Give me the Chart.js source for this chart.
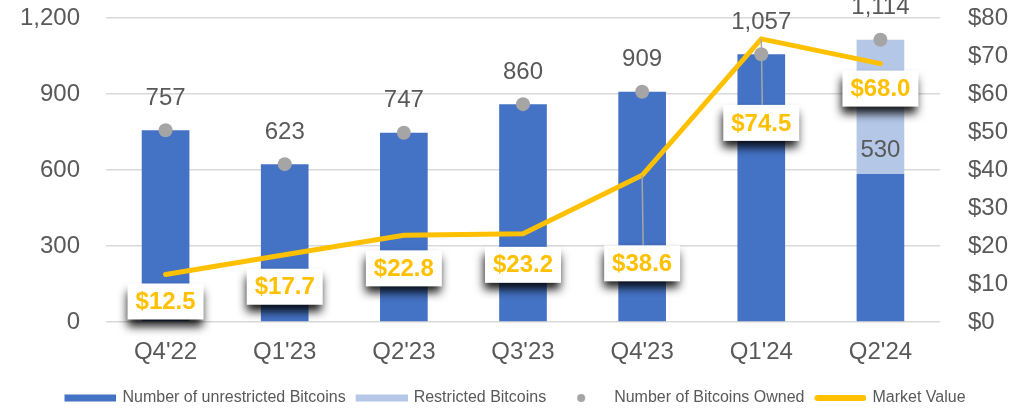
<!DOCTYPE html>
<html>
<head>
<meta charset="utf-8">
<title>Bitcoin holdings</title>
<script src="https://cdn.jsdelivr.net/npm/chart.js@4.4.1/dist/chart.umd.min.js"></script>
<style>
  html, body { margin: 0; padding: 0; background: #fff; }
  #wrap { width: 1024px; height: 408px; }
</style>
</head>
<body>
<div id="wrap"><canvas id="btcChart" width="1024" height="408"></canvas></div>
<script>
const quarters = ["Q4'22", "Q1'23", "Q2'23", "Q3'23", "Q4'23", "Q1'24", "Q2'24"];
const unrestrictedBtc = [757, 623, 747, 860, 909, 1057, 584];
const restrictedBtc = [null, null, null, null, null, null, 530];
const btcOwned = [757, 623, 747, 860, 909, 1057, 1114];
const marketValue = [12.5, 17.7, 22.8, 23.2, 38.6, 74.5, 68.0];
const countTicks = [0, 300, 600, 900, 1200];
const valueTicks = [0, 10, 20, 30, 40, 50, 60, 70, 80];

const FONT = "'Liberation Sans', Arial, sans-serif";
const BLUE = "#4472C4";
const LIGHT_BLUE = "#B4C7E7";
const GREY = "#A5A5A5";
const GOLD = "#FFC000";
const TEXT = "#595959";

Chart.defaults.font.family = FONT;
Chart.defaults.color = TEXT;

// legend swatches drawn on small canvases so each item can have its own shape
// (canvas is a bit wider than the legend box so the marker sits close to its text)
function swatch(draw) {
    const c = document.createElement("canvas");
    c.width = 60;
    c.height = 10;
    draw(c.getContext("2d"));
    return c;
}

const swatches = [
    swatch(ctx => { ctx.fillStyle = BLUE; ctx.fillRect(8, 1.5, 52, 7); }),
    swatch(ctx => { ctx.fillStyle = LIGHT_BLUE; ctx.fillRect(8, 1.5, 52, 7); }),
    swatch(ctx => { ctx.fillStyle = GREY; ctx.beginPath(); ctx.arc(33, 5, 4, 0, Math.PI * 2); ctx.fill(); }),
    swatch(ctx => {
        ctx.strokeStyle = GOLD;
        ctx.lineWidth = 6;
        ctx.lineCap = "round";
        ctx.beginPath();
        ctx.moveTo(11, 5);
        ctx.lineTo(57, 5);
        ctx.stroke();
    })
];

// tick padding is added to the axis' top/bottom overhang, keep only the label half-height
function fixAxis(width) {
    return s => {
        s.width = width;
        s.paddingTop = 14;
        s.paddingBottom = 14;
    };
}

const labelPlugin = {
    id: "btcLabels",
    afterDatasetsDraw(chart, args, opts) {
        const ctx = chart.ctx;
        const restrictedMeta = chart.getDatasetMeta(1);
        const ownedMeta = chart.getDatasetMeta(2);
        const mvMeta = chart.getDatasetMeta(3);

        ctx.save();
        ctx.font = `24px ${FONT}`;
        ctx.fillStyle = TEXT;
        ctx.textAlign = "center";
        ctx.textBaseline = "middle";

        ownedMeta.data.forEach((pt, i) => {
            ctx.fillText(btcOwned[i].toLocaleString("en-US"), pt.x, pt.y - 32);
        });

        restrictedMeta.data.forEach((bar, i) => {
            if (restrictedBtc[i] == null) return;
            ctx.fillText(restrictedBtc[i].toLocaleString("en-US"), bar.x, bar.base - 24);
        });

        // market value callouts
        const w = 76, h = 36;
        mvMeta.data.forEach((pt, i) => {
            const cy = pt.y + opts.drops[i];

            if (opts.drops[i] > 50) {
                ctx.strokeStyle = "#A6A6A6";
                ctx.lineWidth = 1.5;
                ctx.beginPath();
                ctx.moveTo(pt.x, pt.y);
                ctx.lineTo(pt.x + 1, cy - h / 2);
                ctx.stroke();
            }

            ctx.save();
            ctx.shadowColor = "rgba(0,0,0,0.9)";
            ctx.shadowBlur = 9;
            ctx.shadowOffsetX = -1;
            ctx.shadowOffsetY = 7;
            ctx.fillStyle = "#fff";
            ctx.fillRect(pt.x - w / 2, cy - h / 2, w, h);
            ctx.restore();

            ctx.font = `bold 24px ${FONT}`;
            ctx.fillStyle = GOLD;
            ctx.fillText("$" + marketValue[i].toFixed(1), pt.x, cy + 1);
        });

        ctx.restore();
    }
};

new Chart(document.getElementById("btcChart"), {
    type: "bar",
    data: {
        labels: quarters,
        datasets: [
            {
                label: "Number of unrestricted Bitcoins",
                data: unrestrictedBtc,
                backgroundColor: BLUE,
                stack: "btc",
                yAxisID: "y",
                order: 3,
                barPercentage: 0.4,
                categoryPercentage: 1
            },
            {
                label: "Restricted Bitcoins",
                data: restrictedBtc,
                backgroundColor: LIGHT_BLUE,
                stack: "btc",
                yAxisID: "y",
                order: 3,
                barPercentage: 0.4,
                categoryPercentage: 1
            },
            {
                type: "line",
                label: "Number of Bitcoins Owned",
                data: btcOwned,
                showLine: false,
                stack: "owned",
                yAxisID: "y",
                pointRadius: 7,
                pointBackgroundColor: GREY,
                pointBorderWidth: 0,
                order: 1
            },
            {
                type: "line",
                label: "Market Value",
                data: marketValue,
                yAxisID: "y1",
                borderColor: GOLD,
                backgroundColor: GOLD,
                borderWidth: 5,
                borderCapStyle: "round",
                borderJoinStyle: "miter",
                pointRadius: 0,
                tension: 0,
                order: 2
            }
        ]
    },
    options: {
        responsive: false,
        devicePixelRatio: 1,
        animation: false,
        layout: { padding: { top: 18, bottom: -8, left: 0, right: 0 } },
        plugins: {
            tooltip: { enabled: false },
            btcLabels: { drops: [27, 32, 33, 31, 88, 84, 25] },
            legend: {
                position: "bottom",
                labels: {
                    usePointStyle: true,
                    pointStyleWidth: 56,
                    boxHeight: 10,
                    padding: 4,
                    color: TEXT,
                    font: { size: 16 },
                    generateLabels: chart => chart.data.datasets.map((ds, i) => ({
                        text: ds.label,
                        pointStyle: swatches[i],
                        fillStyle: "transparent",
                        strokeStyle: "transparent",
                        lineWidth: 0,
                        fontColor: TEXT,
                        datasetIndex: i
                    }))
                }
            }
        },
        scales: {
            x: {
                stacked: true,
                grid: { display: false },
                border: { display: false },
                ticks: { font: { size: 24 }, color: TEXT, padding: 8 },
                afterFit: s => { s.height = 64; }
            },
            y: {
                stacked: true,
                position: "left",
                min: 0,
                max: 1200,
                afterBuildTicks: s => { s.ticks = countTicks.map(v => ({ value: v })); },
                grid: { color: "#D9D9D9", lineWidth: 1.5, drawTicks: false },
                border: { display: false },
                ticks: {
                    font: { size: 24 },
                    color: TEXT,
                    padding: 26,
                    callback: v => v.toLocaleString("en-US")
                },
                afterFit: fixAxis(106)
            },
            y1: {
                position: "right",
                min: 0,
                max: 80,
                afterBuildTicks: s => { s.ticks = valueTicks.map(v => ({ value: v })); },
                grid: { display: false },
                border: { display: false },
                ticks: {
                    font: { size: 24 },
                    color: TEXT,
                    padding: 20,
                    callback: v => "$" + v
                },
                afterFit: fixAxis(84)
            }
        }
    },
    plugins: [labelPlugin]
});
</script>
</body>
</html>
